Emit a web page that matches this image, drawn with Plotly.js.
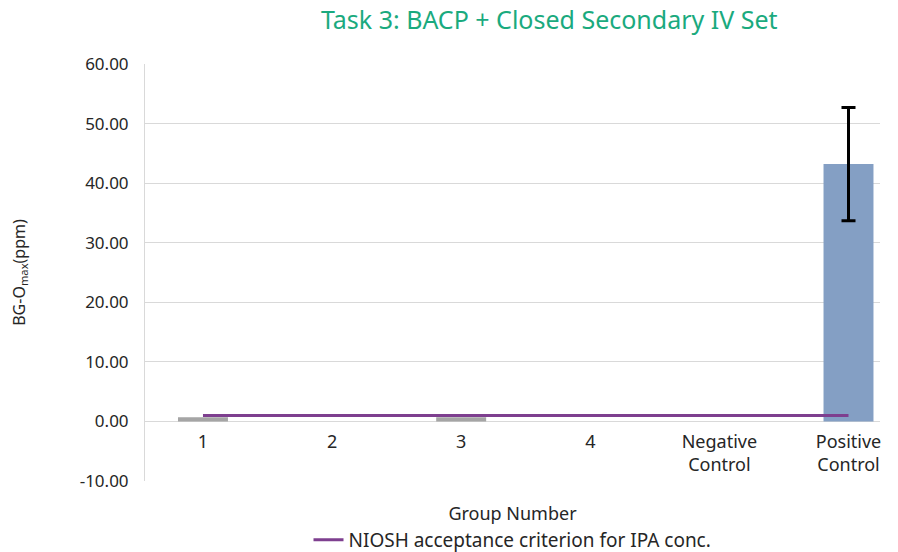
<!DOCTYPE html>
<html>
<head>
<meta charset="utf-8">
<script src="https://cdn.plot.ly/plotly-3.0.1.min.js"></script>
<style>html,body{margin:0;padding:0;background:#fff;}#chart{width:898px;height:552px;}</style>
</head>
<body>
<div id="chart"></div>
<script>
// Data
const categories = ['1', '2', '3', '4', 'Negative<br>Control', 'Positive<br>Control'];
const groupValues = [0.7, 0, 0.7, 0, 0, null];
const positiveCategory = ['Positive<br>Control'];
const positiveValue = [43.2];
const positiveError = [9.5];
const nioshLimit = [1, 1, 1, 1, 1, 1];
const yTickVals = [-10, 0, 10, 20, 30, 40, 50, 60];
const yTickText = ['-10.00', '0.00', '10.00', '20.00', '30.00', '40.00', '50.00', '60.00'];

const font = 'Noto Sans, sans-serif';
const traces = [
  {
    type: 'bar', x: categories, y: groupValues, width: 0.387,
    marker: {color: '#a5a5a5'}, showlegend: false, hoverinfo: 'skip'
  },
  {
    type: 'bar', x: positiveCategory, y: positiveValue, width: 0.387,
    marker: {color: '#849fc4'}, showlegend: false,
    error_y: {type: 'data', array: positiveError, visible: true, color: '#000000', thickness: 3, width: 7}
  },
  {
    type: 'scatter', mode: 'lines', x: categories, y: nioshLimit,
    name: 'NIOSH acceptance criterion for IPA conc.',
    line: {color: '#7e3f8f', width: 3}
  }
];

const layout = {
  width: 898, height: 552,
  margin: {l: 145, r: 18, t: 64, b: 71, autoexpand: false},
  paper_bgcolor: '#ffffff', plot_bgcolor: '#ffffff',
  barmode: 'overlay',
  font: {family: font, color: '#262626', size: 17},
  title: {
    text: 'Task 3: BACP + Closed Secondary IV Set',
    font: {family: font, size: 25, color: '#1aaa7e'},
    x: 0.55, xref: 'paper', xanchor: 'center', y: 0.963, yanchor: 'middle'
  },
  xaxis: {
    type: 'category', range: [-0.449, 5.244],
    anchor: 'free', position: 0.1439,
    showgrid: false, showline: false, zeroline: false, ticks: '',
    ticklabelstandoff: 8,
    tickfont: {family: font, size: 18, color: '#262626'},
    title: {text: 'Group Number', font: {family: font, size: 18, color: '#262626'}, standoff: 32},
    automargin: false
  },
  yaxis: {
    range: [-10, 60], tickvals: yTickVals, ticktext: yTickText,
    showgrid: true, gridcolor: '#d9d9d9', gridwidth: 1,
    showline: true, linecolor: '#d9d9d9', linewidth: 1,
    zeroline: false, ticks: '', ticklabelstandoff: 12,
    tickfont: {family: font, size: 17, color: '#262626'},
    title: {text: 'BG-O<sub>max</sub>(ppm)', font: {family: font, size: 16, color: '#262626'}, standoff: 50},
    automargin: false
  },
  legend: {
    orientation: 'h', x: 0.5, xanchor: 'center', y: -0.1415, yanchor: 'middle',
    font: {family: font, size: 19, color: '#262626'}
  }
};

Plotly.newPlot('chart', traces, layout, {displayModeBar: false, staticPlot: true});
</script>
</body>
</html>
